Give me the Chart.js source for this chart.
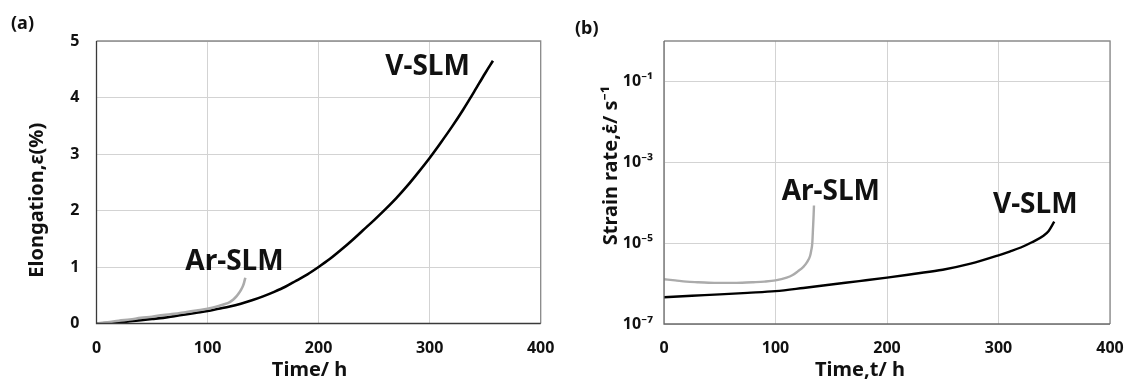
<!DOCTYPE html>
<html>
<head>
<meta charset="utf-8">
<script src="https://cdn.jsdelivr.net/npm/chart.js@4/dist/chart.umd.min.js"></script>
<style>
html,body{margin:0;padding:0;background:#fff;}
#wrap{position:relative;width:1129px;height:382px;}
#ca{position:absolute;left:0;top:0;}
#cb{position:absolute;left:560px;top:0;}
</style>
</head>
<body>
<div id="wrap">
<canvas id="ca" width="560" height="382"></canvas>
<canvas id="cb" width="569" height="382"></canvas>
</div>
<script>
// ---------- Data ----------
// Panel (a): elongation (%) vs time (h)
const timeA_V = [0,10,20,30,40,50,60,70,80,90,100,110,120,130,140,150,160,170,180,190,200,210,220,230,240,250,260,270,280,290,300,310,320,330,340,350,357];
const elongA_V = [0,0.01,0.02,0.04,0.06,0.08,0.10,0.13,0.16,0.19,0.22,0.26,0.30,0.35,0.41,0.48,0.56,0.65,0.76,0.87,1.0,1.14,1.30,1.47,1.65,1.83,2.02,2.22,2.44,2.68,2.93,3.20,3.48,3.78,4.10,4.43,4.65];
const timeA_Ar = [0,10,20,30,40,50,60,70,80,90,100,110,115,120,123,126,128,130,132,133,134];
const elongA_Ar = [0,0.02,0.05,0.07,0.10,0.12,0.15,0.17,0.20,0.23,0.26,0.31,0.34,0.38,0.42,0.48,0.53,0.59,0.67,0.73,0.81];

// Panel (b): strain rate (1/s) vs time (h)
const timeB_V = [0,25,50,75,100,125,150,175,200,225,250,275,300,310,320,330,340,345,350];
const rateB_V = [4.6e-7,5.0e-7,5.4e-7,5.9e-7,6.5e-7,7.8e-7,9.5e-7,1.15e-6,1.4e-6,1.75e-6,2.2e-6,3.1e-6,5.0e-6,6.2e-6,7.8e-6,1.05e-5,1.5e-5,2.0e-5,3.4e-5];
const timeB_Ar = [0,10,20,30,40,50,60,70,80,90,100,110,115,120,125,128,131,132,133,133.7,134.2,134.5];
const rateB_Ar = [1.28e-6,1.2e-6,1.12e-6,1.08e-6,1.05e-6,1.04e-6,1.04e-6,1.05e-6,1.08e-6,1.12e-6,1.2e-6,1.4e-6,1.6e-6,2.0e-6,2.6e-6,3.3e-6,4.8e-6,6.5e-6,1.0e-5,2.5e-5,5e-5,8.5e-5];

// Tick labels
const ticksA_X = [0,100,200,300,400];
const ticksA_Y = [0,1,2,3,4,5];
const ticksB_X = [0,100,200,300,400];
const ticksB_Yvals = [1e-7,1e-5,1e-3,1e-1];
const ticksB_Ylabels = ['10\u207B\u2077','10\u207B\u2075','10\u207B\u00B3','10\u207B\u00B9'];

// Text
const seriesNames = ['V-SLM','Ar-SLM'];
const titlesA = {x:'Time/ h', y:'Elongation,\u03B5(%)', panel:'(a)'};
const titlesB = {x:'Time,t/ h', y:'Strain rate,\u03B5\u0307/ s\u207B\u00B9', panel:'(b)'};
// label anchors in data coordinates [x, y]
const labelPosA = {'V-SLM':[260,4.4], 'Ar-SLM':[80,0.95]};
const labelPosB = {'V-SLM':[295,5.7e-5], 'Ar-SLM':[105.5,1.17e-4]};

// ---------- Helpers ----------
const FONT = '"Noto Sans", "Open Sans", sans-serif';
const zip = (xs, ys) => xs.map((x,i)=>({x:x, y:ys[i]}));
const BLACK = '#000000', GRAY = '#ababab', GRID = '#d3d3d3';

function makeDecor(t, labelPos, opts){
  return {
    id:'decor',
    afterDraw(chart){
      const ctx = chart.ctx, a = chart.chartArea;
      const xs = chart.scales.x, ys = chart.scales.y;
      ctx.save();
      // borders
      ctx.lineWidth = 1.3;
      ctx.strokeStyle = opts.topRight;
      ctx.beginPath();
      ctx.moveTo(a.left, a.top); ctx.lineTo(a.right, a.top); ctx.lineTo(a.right, a.bottom);
      ctx.stroke();
      ctx.strokeStyle = opts.leftBottom;
      ctx.beginPath();
      ctx.moveTo(a.left, a.top); ctx.lineTo(a.left, a.bottom); ctx.lineTo(a.right, a.bottom);
      ctx.stroke();
      // series labels
      ctx.fillStyle = '#111';
      ctx.font = 'bold 28px ' + FONT;
      ctx.textAlign = 'left'; ctx.textBaseline = 'alphabetic';
      for (const name of seriesNames){
        const p = labelPos[name];
        ctx.fillText(name, xs.getPixelForValue(p[0]), ys.getPixelForValue(p[1]));
      }
      // axis titles
      ctx.font = 'bold 20px ' + FONT;
      ctx.textAlign = 'center'; ctx.textBaseline = 'middle';
      ctx.fillText(t.x, (a.left+a.right)/2 + opts.xTitleDx, opts.xTitleY);
      ctx.save();
      ctx.translate(opts.yTitleX, (a.top+a.bottom)/2 + opts.yTitleDy);
      ctx.rotate(-Math.PI/2);
      ctx.fillText(t.y, 0, 0);
      ctx.restore();
      // panel label
      ctx.font = 'bold 18px ' + FONT;
      ctx.textAlign = 'left'; ctx.textBaseline = 'alphabetic';
      ctx.fillText(t.panel, opts.panelX, opts.panelY);
      ctx.restore();
    }
  };
}

const tickFont = {family: FONT, size: 16, weight: 'bold'};
const fitX = h => s => { s.height = h; s.paddingLeft = 0; s.paddingRight = 0; };
const fitY = w => s => { s.width = w; s.paddingTop = 0; s.paddingBottom = 0; };

// ---------- Chart (a) ----------
new Chart(document.getElementById('ca'), {
  type:'line',
  data:{
    datasets:[
      {label:seriesNames[1], data:zip(timeA_Ar, elongA_Ar), borderColor:GRAY, borderWidth:2.6, pointRadius:0, cubicInterpolationMode:'monotone', fill:false},
      {label:seriesNames[0], data:zip(timeA_V, elongA_V), borderColor:BLACK, borderWidth:2.6, pointRadius:0, cubicInterpolationMode:'monotone', fill:false}
    ]
  },
  options:{
    responsive:false, animation:false, devicePixelRatio:1,
    layout:{padding:{left:0, top:41, right:19.3, bottom:0}},
    plugins:{legend:{display:false}, tooltip:{enabled:false}},
    scales:{
      x:{type:'linear', min:0, max:400,
         afterBuildTicks:s=>{s.ticks = ticksA_X.map(v=>({value:v}));},
         afterFit:fitX(58.5),
         border:{display:false},
         grid:{color:GRID, lineWidth:1, drawTicks:false},
         ticks:{font:tickFont, color:'#111', padding:15, maxRotation:0}},
      y:{type:'linear', min:0, max:5,
         afterBuildTicks:s=>{s.ticks = ticksA_Y.map(v=>({value:v}));},
         afterFit:fitY(96.5),
         border:{display:false},
         grid:{color:GRID, lineWidth:1, drawTicks:false},
         ticks:{font:tickFont, color:'#111', padding:17}}
    }
  },
  plugins:[makeDecor(titlesA, labelPosA, {topRight:'#8a8a8a', leftBottom:'#3a3a3a', xTitleDx:-9, xTitleY:370, yTitleX:37, yTitleDy:18, panelX:11, panelY:29})]
});

// ---------- Chart (b) ----------
new Chart(document.getElementById('cb'), {
  type:'line',
  data:{
    datasets:[
      {label:seriesNames[1], data:zip(timeB_Ar, rateB_Ar), borderColor:GRAY, borderWidth:2.4, pointRadius:0, cubicInterpolationMode:'monotone', fill:false},
      {label:seriesNames[0], data:zip(timeB_V, rateB_V), borderColor:BLACK, borderWidth:2.4, pointRadius:0, cubicInterpolationMode:'monotone', fill:false}
    ]
  },
  options:{
    responsive:false, animation:false, devicePixelRatio:1,
    layout:{padding:{left:0, top:41, right:19, bottom:0}},
    plugins:{legend:{display:false}, tooltip:{enabled:false}},
    scales:{
      x:{type:'linear', min:0, max:400,
         afterBuildTicks:s=>{s.ticks = ticksB_X.map(v=>({value:v}));},
         afterFit:fitX(58),
         border:{display:false},
         grid:{color:GRID, lineWidth:1, drawTicks:false},
         ticks:{font:tickFont, color:'#111', padding:15, maxRotation:0}},
      y:{type:'logarithmic', min:1e-7, max:1,
         afterBuildTicks:s=>{s.ticks = ticksB_Yvals.map(v=>({value:v}));},
         afterFit:fitY(104),
         border:{display:false},
         grid:{color:GRID, lineWidth:1, drawTicks:false},
         ticks:{font:tickFont, color:'#111', padding:11,
                callback:(v)=>{const i = ticksB_Yvals.findIndex(t=>Math.abs(Math.log10(t)-Math.log10(v))<1e-6); return i>=0 ? ticksB_Ylabels[i] : '';}}}
    }
  },
  plugins:[makeDecor(titlesB, labelPosB, {topRight:'#8a8a8a', leftBottom:'#6a6a6a', xTitleDx:-27, xTitleY:370, yTitleX:51, yTitleDy:-17, panelX:15, panelY:34})]
});
</script>
</body>
</html>
